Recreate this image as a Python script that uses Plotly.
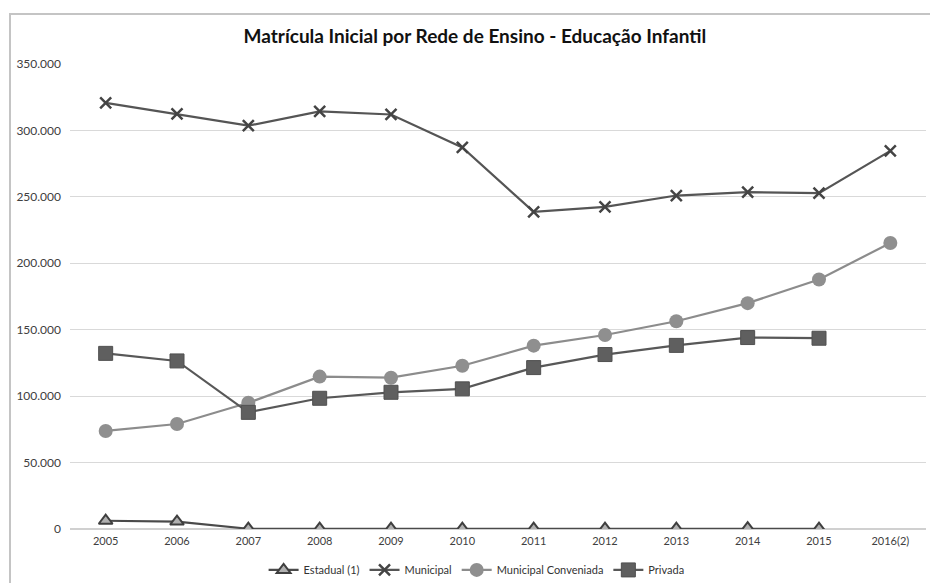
import plotly.graph_objects as go

anos = ["2005", "2006", "2007", "2008", "2009", "2010", "2011", "2012", "2013", "2014", "2015", "2016(2)"]
estadual = [6200, 5600, 200, 200, 200, 200, 200, 200, 200, 600, 200, None]
municipal = [320800, 312400, 303600, 314300, 312000, 287200, 238700, 242500, 251000, 253600, 252800, 284600]
conveniada = [73800, 79000, 95000, 114700, 113900, 122900, 138000, 146000, 156400, 170000, 187800, 215300]
privada = [132200, 126500, 87800, 98400, 102900, 105500, 121500, 131300, 138200, 144100, 143600, None]

fig = go.Figure()
fig.add_trace(go.Scatter(
    x=anos, y=estadual, name="Estadual (1)", mode="lines+markers",
    line=dict(color="#4a4a4a", width=2.2),
    marker=dict(symbol="triangle-up", size=12, color="#b0b0b0", line=dict(color="#3f3f3f", width=2)),
))
fig.add_trace(go.Scatter(
    x=anos, y=municipal, name="Municipal", mode="lines+markers",
    line=dict(color="#555555", width=2.2),
    marker=dict(symbol="x-thin", size=11, color="#444444", line=dict(color="#444444", width=2.5)),
))
fig.add_trace(go.Scatter(
    x=anos, y=conveniada, name="Municipal Conveniada", mode="lines+markers",
    line=dict(color="#8c8c8c", width=2.2),
    marker=dict(symbol="circle", size=14, color="#8f8f8f"),
))
fig.add_trace(go.Scatter(
    x=anos, y=privada, name="Privada", mode="lines+markers",
    line=dict(color="#585858", width=2.2),
    marker=dict(symbol="square", size=14, color="#5f5f5f", line=dict(color="#505050", width=1)),
))

fig.update_layout(
    width=930, height=575,
    margin=dict(l=62, r=12, t=56, b=54, autoexpand=False),
    paper_bgcolor="white", plot_bgcolor="white",
    separators=",.",
    font=dict(family="Lato, Open Sans, sans-serif", color="#404040"),
    title=dict(
        text="<b>Matrícula Inicial por Rede de Ensino - Educação Infantil</b>",
        x=0.502, xanchor="center", y=0.95, yanchor="middle",
        font=dict(size=19, color="#111111", family="Lato, Open Sans, sans-serif"),
    ),
    showlegend=True,
    legend=dict(
        orientation="h", x=0.475, xanchor="center", y=-0.088, yanchor="middle",
        font=dict(size=11, color="#333333"), bgcolor="rgba(0,0,0,0)",
        itemwidth=30,
    ),
    shapes=[dict(
        type="rect", xref="paper", yref="paper",
        x0=-0.0701, x1=1.2, y0=-0.2, y1=1.1075,
        line=dict(color="#c4c4c4", width=2), fillcolor="rgba(0,0,0,0)", layer="below",
    )],
)
fig.update_xaxes(
    type="category", range=[-0.5, 11.5], showgrid=False, showline=False, ticks="",
    automargin=False, tickfont=dict(size=11, color="#404040"), ticklabelstandoff=4,
)
fig.update_yaxes(
    range=[0, 350000], dtick=50000, tickformat=",.0f", automargin=False,
    showgrid=True, gridcolor="#d9d9d9", gridwidth=1.3,
    zeroline=True, zerolinecolor="#d0d0d0", zerolinewidth=1.5,
    showline=False, ticks="", tickfont=dict(size=12, color="#404040"),
    ticklabelstandoff=8,
)

fig.write_html("out.html")
